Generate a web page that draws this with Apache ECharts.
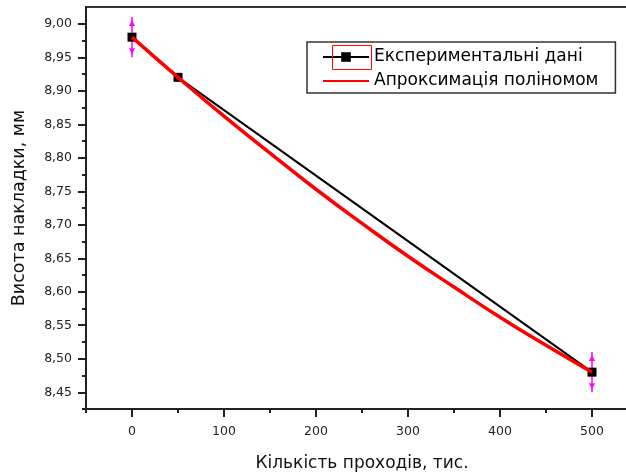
<!DOCTYPE html>
<html><head><meta charset="utf-8">
<script src="https://cdn.jsdelivr.net/npm/echarts@6/dist/echarts.min.js"></script>
<style>html,body{margin:0;padding:0;background:#fff}#c{width:626px;height:474px}</style>
</head><body><div id="c"></div>
<script>
// Experimental data
const expX = [0, 50, 500];
const expY = [8.98, 8.92, 8.48];
// Polynomial approximation
const fitX = [0, 50, 100, 150, 200, 250, 300, 350, 400, 450, 500];
const fitY = [8.98, 8.92, 8.862, 8.807, 8.753, 8.702, 8.653, 8.607, 8.562, 8.52, 8.48];
// Error bars
const errX = [0, 500];
const errY = [8.98, 8.48];
const errD = [0.03, 0.03];
// Ticks
const yLabels = [8.45, 8.50, 8.55, 8.60, 8.65, 8.70, 8.75, 8.80, 8.85, 8.90, 8.95, 9.00];
const yMinor = [8.425, 8.475, 8.525, 8.575, 8.625, 8.675, 8.725, 8.775, 8.825, 8.875, 8.925, 8.975];
const xLabels = [0, 100, 200, 300, 400, 500];
const xMinor = [-50, 50, 150, 250, 350, 450];
const seriesNames = ['Експериментальні дані', 'Апроксимація поліномом'];
const xTitle = 'Кількість проходів, тис.';
const yTitle = 'Висота накладки, мм';

const FONT = 'DejaVu Sans';
const tickFont = {fontFamily: FONT, fontSize: 12.5, color: '#222'};
const axisLine = {show: true, onZero: false, lineStyle: {color: '#222', width: 2}};

const chart = echarts.init(document.getElementById('c'), null, {renderer: 'canvas'});
chart.setOption({
  animation: false,
  backgroundColor: '#fff',
  grid: {left: 86, width: 552, top: 7, bottom: 65, show: true, borderColor: '#333', borderWidth: 2,
         containLabel: false, outerBoundsMode: 'none'},
  xAxis: [{
    type: 'value', min: -50, max: 550, interval: 50,
    axisLine: axisLine,
    axisTick: {show: true, inside: false, length: 8, lineStyle: {color: '#222', width: 2}, customValues: xLabels},
    axisLabel: Object.assign({margin: 16, customValues: xLabels, formatter: v => String(v)}, tickFont),
    splitLine: {show: false},
    name: xTitle, nameLocation: 'middle', nameGap: 46,
    nameTextStyle: {fontFamily: FONT, fontSize: 17, color: '#111'}
  }, {
    type: 'value', min: -50, max: 550, interval: 50, position: 'bottom',
    axisLine: {show: false, onZero: false},
    axisTick: {show: true, length: 4, lineStyle: {color: '#222', width: 2}, customValues: xMinor},
    axisLabel: {show: false}, splitLine: {show: false}
  }],
  yAxis: [{
    type: 'value', min: 8.425, max: 9.025, interval: 0.025,
    axisLine: axisLine,
    axisTick: {show: true, length: 8, lineStyle: {color: '#222', width: 2}, customValues: yLabels},
    axisLabel: Object.assign({margin: 14, customValues: yLabels, formatter: v => v.toFixed(2).replace('.', ',')}, tickFont),
    splitLine: {show: false},
    name: yTitle, nameLocation: 'middle', nameGap: 58,
    nameTextStyle: {fontFamily: FONT, fontSize: 17.5, color: '#111'}
  }, {
    type: 'value', min: 8.425, max: 9.025, interval: 0.025, position: 'left',
    axisLine: {show: false, onZero: false},
    axisTick: {show: true, length: 4, lineStyle: {color: '#222', width: 2}, customValues: yMinor},
    axisLabel: {show: false}, splitLine: {show: false}
  }],
  legend: {
    orient: 'vertical', left: 307, top: 42,
    padding: [6.5, 17, 3.5, 15], itemGap: 7, itemWidth: 46, itemHeight: 12,
    borderColor: '#333', borderWidth: 1.5, backgroundColor: '#fff',
    textStyle: {fontFamily: FONT, fontSize: 17, color: '#000'},
    data: [{name: seriesNames[0]}, {name: seriesNames[1], itemStyle: {color: 'rgba(0,0,0,0)', borderWidth: 0}}]
  },
  graphic: [{
    type: 'rect', left: 330, top: 43, z: 100,
    shape: {width: 39, height: 24},
    style: {fill: 'none', stroke: '#ff0000', lineWidth: 1}
  }],
  series: [{
    type: 'custom', name: 'err', z: 1, silent: true,
    data: errX.map((x, i) => [x, errY[i], errD[i]]),
    renderItem: function (params, api) {
      const x = api.value(0), y = api.value(1), d = api.value(2);
      const top = api.coord([x, y + d]);
      const bot = api.coord([x, y - d]);
      const c = '#ff00ff';
      return {type: 'group', children: [
        {type: 'line', shape: {x1: top[0], y1: top[1], x2: bot[0], y2: bot[1]}, style: {stroke: c, lineWidth: 1.5}},
        {type: 'polygon', shape: {points: [[top[0], top[1] + 3], [top[0] - 3, top[1] + 9], [top[0] + 3, top[1] + 9]]}, style: {fill: c}},
        {type: 'polygon', shape: {points: [[bot[0], bot[1] - 3], [bot[0] - 3, bot[1] - 9], [bot[0] + 3, bot[1] - 9]]}, style: {fill: c}}
      ]};
    }
  }, {
    type: 'line', name: seriesNames[0], z: 3,
    data: expX.map((x, i) => [x, expY[i]]),
    symbol: 'rect', symbolSize: 9,
    itemStyle: {color: '#000'},
    lineStyle: {color: '#000', width: 2}
  }, {
    type: 'line', name: seriesNames[1], z: 4,
    data: fitX.map((x, i) => [x, fitY[i]]),
    smooth: true, symbol: 'none',
    itemStyle: {color: '#ff0000'},
    lineStyle: {color: '#ff0000', width: 3.5}
  }]
});
</script></body></html>
